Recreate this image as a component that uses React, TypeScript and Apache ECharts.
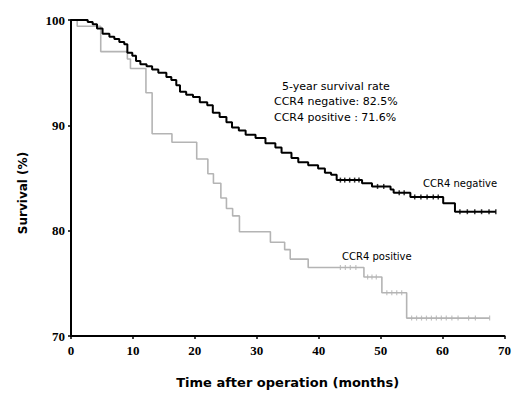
import React, { useEffect, useRef } from "react";
import * as echarts from "echarts";

const xTicks = [0, 10, 20, 30, 40, 50, 60, 70];
const yTicks = [70, 80, 90, 100];

const negTimes = [0, 2.7, 3.5, 4.2, 5.1, 6.2, 7.0, 7.8, 8.6, 9.1, 9.9, 10.5, 11.2, 12.2, 13.1, 14.1, 15.4, 16.2, 17.0, 17.6, 18.6, 19.7, 20.8, 22.0, 22.9, 24.0, 25.1, 26.0, 27.1, 28.2, 29.8, 31.4, 33.0, 34.0, 35.6, 36.7, 38.3, 39.9, 41.0, 42.0, 42.9, 47.0, 48.6, 51.6, 52.1, 54.8, 60.1, 62.0, 68.6];
const negSurv = [100, 99.8, 99.6, 99.2, 98.7, 98.4, 98.2, 97.9, 97.7, 96.9, 96.6, 96.1, 95.8, 95.6, 95.3, 95.0, 94.6, 94.3, 93.8, 93.2, 92.9, 92.7, 92.2, 91.9, 91.2, 90.8, 90.3, 89.8, 89.5, 89.1, 88.8, 88.3, 87.9, 87.4, 86.9, 86.5, 86.2, 85.9, 85.5, 85.3, 84.8, 84.5, 84.2, 83.9, 83.6, 83.2, 82.6, 81.8, 81.8];

const posTimes = [0, 1.0, 4.8, 9.1, 9.6, 12.1, 13.1, 16.3, 20.3, 22.1, 23.0, 24.2, 25.1, 26.1, 27.2, 32.2, 34.5, 35.4, 38.3, 47.3, 50.2, 54.2, 67.6];
const posSurv = [100, 99.4, 97.0, 96.3, 95.4, 93.1, 89.2, 88.4, 86.8, 85.4, 84.5, 83.1, 82.1, 81.4, 79.9, 78.9, 78.2, 77.3, 76.5, 75.6, 74.1, 71.7, 71.7];

const negCensorTimes = [43.5, 44.2, 45.0, 45.8, 46.5, 49.5, 50.5, 53.0, 53.8, 55.5, 56.5, 57.5, 58.5, 59.3, 62.8, 64.0, 65.2, 66.3, 67.5, 68.6];
const negCensorSurv = [84.8, 84.8, 84.8, 84.8, 84.8, 84.2, 84.2, 83.6, 83.6, 83.2, 83.2, 83.2, 83.2, 83.2, 81.8, 81.8, 81.8, 81.8, 81.8, 81.8];

const posCensorTimes = [43.5, 44.3, 45.1, 46.0, 47.9, 48.6, 49.3, 51.0, 51.8, 52.6, 53.4, 55.0, 55.8, 56.6, 57.4, 58.2, 59.0, 59.8, 60.6, 61.5, 62.5, 64.2, 65.3, 67.6];
const posCensorSurv = [76.5, 76.5, 76.5, 76.5, 75.6, 75.6, 75.6, 74.1, 74.1, 74.1, 74.1, 71.7, 71.7, 71.7, 71.7, 71.7, 71.7, 71.7, 71.7, 71.7, 71.7, 71.7, 71.7, 71.7];

const summaryLines = ["5-year survival rate", "CCR4 negative: 82.5%", "CCR4 positive : 71.6%"];
const seriesNames = ["CCR4 negative", "CCR4 positive"];
const yAxisTitle = "Survival (%)";
const xAxisTitle = "Time after operation (months)";

const NEG_COLOR = "#000000";
const POS_COLOR = "#b4b4b4";

export default function App() {
  const ref = useRef<HTMLDivElement>(null);
  useEffect(() => {
    if (!ref.current) return;
    const chart = echarts.init(ref.current, null, { renderer: "svg" });
    const zip = (a: number[], b: number[]) => a.map((t, i) => [t, b[i]]);
    const axisFont = { fontFamily: "Liberation Serif", fontWeight: "bold" as const, fontSize: 13, color: "#000" };
    chart.setOption({
      animation: false,
      backgroundColor: "#ffffff",
      grid: { left: 71, right: 6, top: 20, bottom: 62 },
      xAxis: {
        type: "value",
        min: 0,
        max: 70,
        interval: 10,
        name: xAxisTitle,
        nameLocation: "middle",
        nameGap: 40,
        nameTextStyle: { fontFamily: "DejaVu Sans", fontWeight: "bold", fontSize: 13, color: "#000" },
        axisLine: { lineStyle: { color: "#000", width: 2 } },
        axisTick: { show: true, length: 3, lineStyle: { color: "#000", width: 1.5 } },
        axisLabel: { ...axisFont, margin: 8, formatter: (v: number) => (xTicks.includes(v) ? String(v) : "") },
        splitLine: { show: false },
      },
      yAxis: {
        type: "value",
        min: 70,
        max: 100,
        interval: 10,
        axisLine: { show: true, lineStyle: { color: "#000", width: 2 } },
        axisTick: { show: true, length: 3, lineStyle: { color: "#000", width: 1.5 } },
        axisLabel: { ...axisFont, margin: 6, formatter: (v: number) => (yTicks.includes(v) ? String(v) : "") },
        splitLine: { show: false },
      },
      series: [
        {
          name: seriesNames[1],
          type: "line",
          step: "end",
          data: zip(posTimes, posSurv),
          showSymbol: false,
          lineStyle: { color: POS_COLOR, width: 1.6 },
          itemStyle: { color: POS_COLOR },
          z: 2,
        },
        {
          name: seriesNames[0],
          type: "line",
          step: "end",
          data: zip(negTimes, negSurv),
          showSymbol: false,
          lineStyle: { color: NEG_COLOR, width: 2 },
          itemStyle: { color: NEG_COLOR },
          z: 3,
        },
        {
          type: "scatter",
          data: zip(posCensorTimes, posCensorSurv),
          symbol: "rect",
          symbolSize: [1.2, 5],
          itemStyle: { color: POS_COLOR },
          z: 2,
        },
        {
          type: "scatter",
          data: zip(negCensorTimes, negCensorSurv),
          symbol: "rect",
          symbolSize: [1.5, 5],
          itemStyle: { color: NEG_COLOR },
          z: 3,
        },
      ],
      graphic: [
        {
          type: "text",
          x: 23,
          y: 193,
          rotation: Math.PI / 2,
          style: {
            text: yAxisTitle,
            fontFamily: "DejaVu Sans",
            fontWeight: "bold",
            fontSize: 12,
            fill: "#000",
            align: "center",
            verticalAlign: "middle",
          },
        },
        {
          type: "text",
          left: 282,
          top: 81,
          style: { text: summaryLines[0], fontFamily: "DejaVu Sans", fontSize: 11, fill: "#000" },
        },
        {
          type: "text",
          left: 274,
          top: 96,
          style: { text: summaryLines[1], fontFamily: "DejaVu Sans", fontSize: 11, fill: "#000" },
        },
        {
          type: "text",
          left: 274,
          top: 112,
          style: { text: summaryLines[2], fontFamily: "DejaVu Sans", fontSize: 11, fill: "#000" },
        },
        {
          type: "text",
          left: 423,
          top: 178,
          style: { text: seriesNames[0], fontFamily: "DejaVu Sans", fontSize: 10, fill: "#000" },
        },
        {
          type: "text",
          left: 342,
          top: 251,
          style: { text: seriesNames[1], fontFamily: "DejaVu Sans", fontSize: 10, fill: "#000" },
        },
      ],
    });
    return () => chart.dispose();
  }, []);
  return (
    <div
      ref={ref}
      style={{ position: "fixed", left: 0, top: 0, width: 514, height: 398, background: "#fff" }}
    />
  );
}
